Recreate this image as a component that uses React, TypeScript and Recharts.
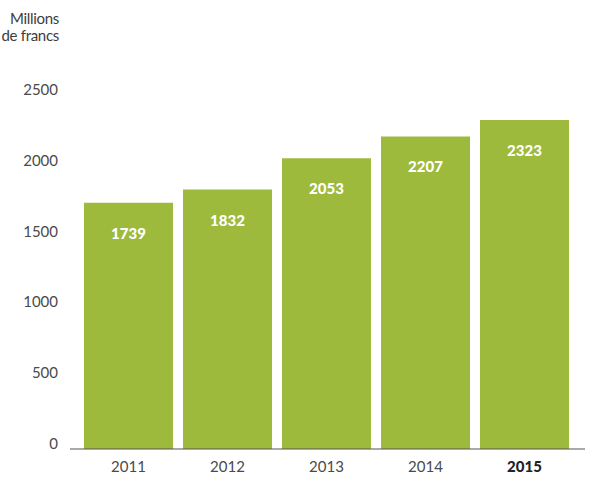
import { BarChart, Bar, XAxis, YAxis, LabelList } from 'recharts';

const years = ['2011', '2012', '2013', '2014', '2015'];
const revenue = [1739, 1832, 2053, 2207, 2323];
const yTicks = [0, 500, 1000, 1500, 2000, 2500];

const data = years.map((year, i) => ({ year, value: revenue[i] }));

const green = '#9dba3c';
const textColor = '#4a4a4a';
const font = 'Lato, "Open Sans", sans-serif';

function YTick(props: any) {
  const { y, payload } = props;
  return (
    <text x={58} y={y - 6} textAnchor="end" dominantBaseline="central" fill={textColor} fontSize={15} fontFamily={font}>
      {payload.value}
    </text>
  );
}

function XTick(props: any) {
  const { x, y, payload } = props;
  const bold = payload.value === '2015';
  return (
    <text
      x={x}
      y={y + 9}
      textAnchor="middle"
      dominantBaseline="central"
      fill={bold ? '#222' : textColor}
      fontSize={15}
      fontWeight={bold ? 900 : 400}
      fontFamily={font}
    >
      {payload.value}
    </text>
  );
}

function ValueLabel(props: any) {
  const { x, y, width, value } = props;
  return (
    <text
      x={x + width / 2}
      y={y + 30}
      textAnchor="middle"
      dominantBaseline="central"
      fill="#fff"
      fontSize={15}
      fontWeight={900}
      fontFamily={font}
    >
      {value}
    </text>
  );
}

export default function App() {
  return (
    <div style={{ position: 'absolute', left: 0, top: 0, width: 594, height: 482, background: '#fff' }}>
      <div
        style={{
          position: 'absolute',
          right: 594 - 59,
          top: 10,
          textAlign: 'right',
          fontFamily: font,
          fontSize: 15,
          lineHeight: '17px',
          color: '#3d3d3d',
          letterSpacing: -0.3,
          whiteSpace: 'nowrap',
        }}
      >
        Millions
        <br />
        de francs
      </div>
      <BarChart
        width={594}
        height={482}
        data={data}
        margin={{ top: 95, right: 9, left: 0, bottom: 0 }}
        barCategoryGap={5}
      >
        <XAxis
          dataKey="year"
          height={33}
          axisLine={{ stroke: '#555', strokeWidth: 1.2 }}
          tickLine={false}
          tick={<XTick />}
          padding={{ left: 9, right: 11 }}
          interval={0}
        />
        <YAxis
          width={70}
          domain={[0, 2500]}
          ticks={yTicks}
          axisLine={false}
          tickLine={false}
          tick={<YTick />}
        />
        <Bar dataKey="value" fill={green} isAnimationActive={false}>
          <LabelList dataKey="value" content={<ValueLabel />} />
        </Bar>
      </BarChart>
    </div>
  );
}
